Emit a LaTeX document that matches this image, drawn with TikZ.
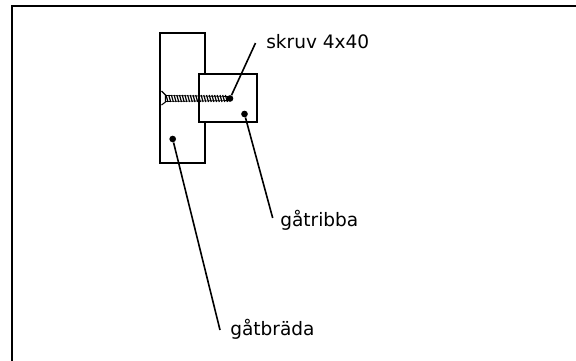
\documentclass[tikz,border=0pt]{standalone}
\usepackage{fontspec}
\setmainfont{DejaVu Sans}
\tikzset{
  plank/.style={draw, line width=1.2pt, fill=white, inner sep=0pt},
  leader/.style={line width=1.2pt},
  tipdot/.style={circle, fill=black, inner sep=0pt, minimum size=5pt},
  callout/.style={anchor=base west, inner sep=0pt, font=\fontsize{13.9}{16}\selectfont}
}
\begin{document}
\begin{tikzpicture}[x=0.75pt,y=-0.75pt]
\useasboundingbox (0,0) rectangle (576,361);
\draw[line width=1.5pt] (11.7,361) -- (11.7,5.5) -- (576,5.5);
% planks
\node[plank, minimum width=33.75pt, minimum height=97.5pt] (brada) at (182.5,98) {};
\node[plank, minimum width=43.5pt, minimum height=36pt] (ribba) at (228,98) {};
% screw
\draw[line width=0.8pt] (161.5,91) -- (165.5,95) -- (165.5,102) -- (161.5,105);
\foreach \x in {166,168.7,...,228}
  \draw[line width=0.9pt] (\x,95) -- (\x+2,102);
\draw[line width=0.5pt] (165.5,95.5) -- (229,96.5);
\draw[line width=0.5pt] (165.5,101.5) -- (229,100.5);
% labels
\node[callout] (skruv) at (266,48.5) {skruv 4x40};
\node[callout] (tribba) at (280,226) {gåtribba};
\node[callout] (tbrada) at (230,335) {gåtbräda};
% leaders
\node[tipdot] (skruvdot) at (230,98.5) {};
\node[tipdot] (ribbadot) at (244.5,114) {};
\node[tipdot] (bradadot) at (172.7,139) {};
\coordinate (skruvend) at (255.5,43);
\coordinate (tribbaend) at (272.7,218);
\coordinate (tbradaend) at (220,330);
\draw[leader] (skruvdot) -- (skruvend);
\draw[leader] (ribbadot) -- (tribbaend);
\draw[leader] (bradadot) -- (tbradaend);
\end{tikzpicture}
\end{document}
